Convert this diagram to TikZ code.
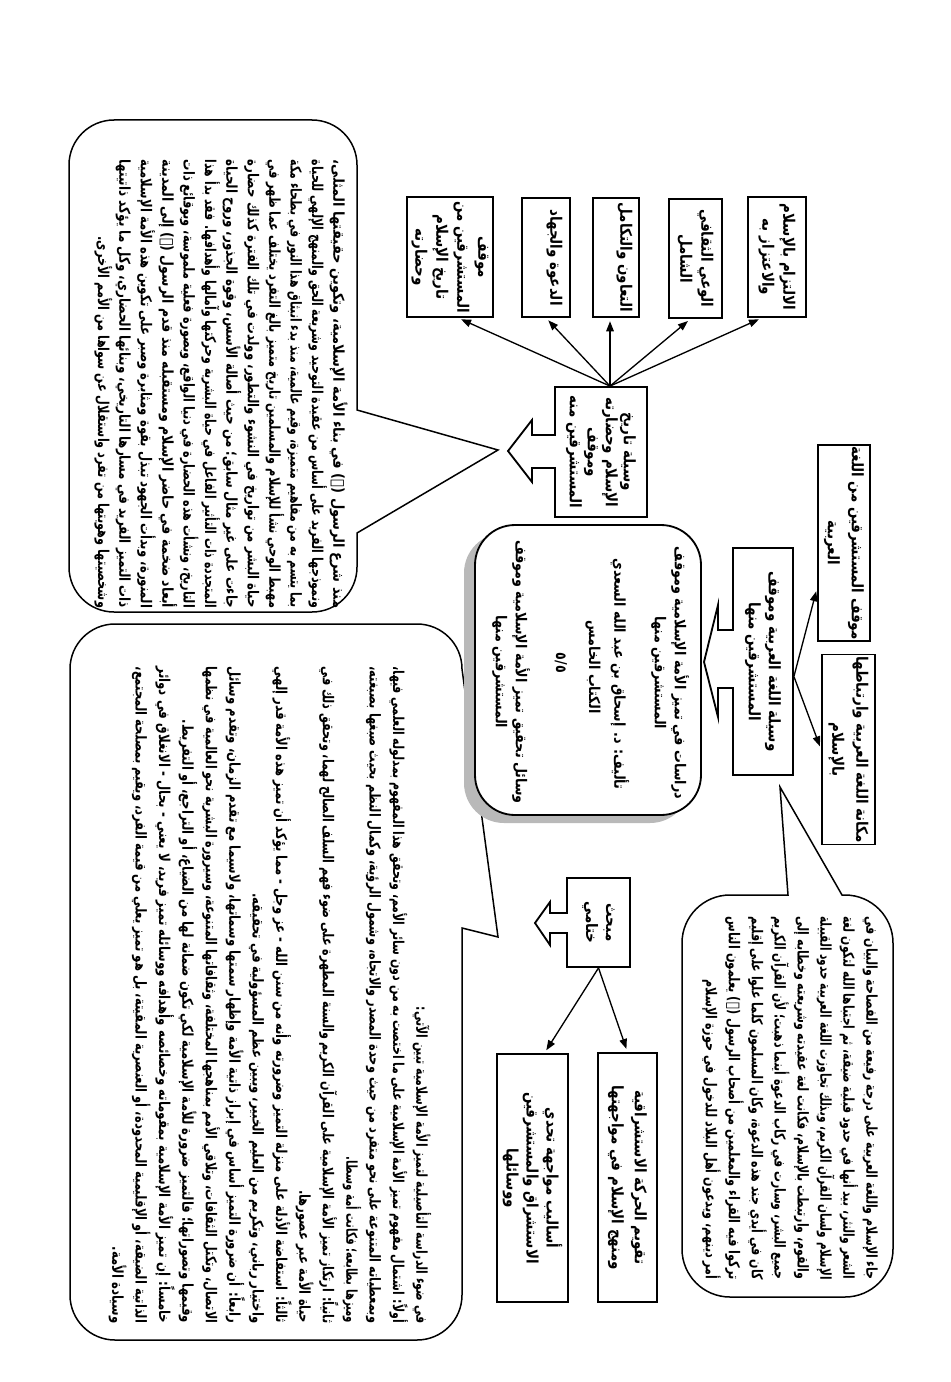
\documentclass[tikz,border=0pt]{standalone}
\usepackage{fontspec}
\usepackage{graphicx}
\usetikzlibrary{arrows.meta,calc}
\TeXXeTstate=1
\newfontfamily\arf[Script=Arabic]{DejaVu Sans}
\newfontfamily\arb[Script=Arabic,FakeStretch=0.85]{DejaVu Sans}
\newsavebox\fitbx
\newcommand\fitline[2]{\sbox\fitbx{#2}\ifdim\wd\fitbx>#1\relax\resizebox{#1}{\height}{\usebox\fitbx}\else\makebox[#1][s]{#2}\fi}
\newcommand\rl[3]{\makebox[#1][r]{\resizebox{#2}{\height}{#3}}}
\tikzset{
  bx/.style={draw, line width=1.1pt, inner sep=1pt, align=center, fill=white,
    font=\arb\bfseries\fontsize{9.5}{12.6}\selectfont},
  arr/.style={line width=0.8pt, -{Triangle[length=6pt,width=4.5pt]}, shorten >=2pt},
  bubble/.style={draw, line width=0.9pt, fill=white, line join=miter},
  btxt/.style={inner sep=0pt, align=center},
  blk/.style={draw, line width=1.1pt, line join=miter},
}
\begin{document}
\begin{tikzpicture}[x=0.6pt,y=0.6pt]
\fill[white] (0,0) rectangle (950,-1382);
\useasboundingbox (0,0) rectangle (950,-1382);
\begin{scope}[rotate=-90,transform shape]
% ---------- speech bubbles ----------
\draw[bubble] (120,114) -- (120,312) arc[start angle=180,end angle=90,radius=45]
  -- (410,357) -- (450,498) -- (533,357) -- (567,357)
  arc[start angle=90,end angle=0,radius=45] -- (612,114)
  arc[start angle=0,end angle=-90,radius=45] -- (165,69)
  arc[start angle=270,end angle=180,radius=45] -- cycle;
\draw[bubble] (624,115) -- (624,417) arc[start angle=180,end angle=90,radius=45]
  -- (937,498) -- (928,462) -- (1295,462)
  arc[start angle=90,end angle=0,radius=45] -- (1340,115)
  arc[start angle=0,end angle=-90,radius=45] -- (669,70)
  arc[start angle=270,end angle=180,radius=45] -- cycle;
\draw[bubble] (895,730) -- (895,788) -- (787,780) -- (895,842) -- (895,845)
  arc[start angle=180,end angle=90,radius=48] -- (1249,893)
  arc[start angle=90,end angle=0,radius=48] -- (1297,730)
  arc[start angle=0,end angle=-90,radius=48] -- (943,682)
  arc[start angle=270,end angle=180,radius=48] -- cycle;
% ---------- bubble texts ----------
\node[btxt, font=\arf\bfseries\fontsize{9}{12.84}\selectfont] (TLtext) at (384,221) {%
\fitline{269pt}{\beginR منذ شرع الرسول (ﷺ) في بناء الأمة الإسلامية، وتكوين حقيقتها المثلى،\endR}\\
\fitline{269pt}{\beginR ونموذجها الفريد على أساس من عقيدة التوحيد وشريعة الحق والمنهج الإلهي للحياة\endR}\\
\fitline{269pt}{\beginR بما يتسم به من مفاهيم متميزة، وقيم عالمية، منذ بدء انبثاق هذا النور في بطحاء مكة\endR}\\
\fitline{269pt}{\beginR مهبط الوحي نشأ للإسلام والمسلمين تاريخ متميز بالغ التفرد يختلف عما ظهر في\endR}\\
\fitline{269pt}{\beginR حياة البشر من تواريخ في النشوء والتطور، وولدت في تلك الفترة كذلك حضارة\endR}\\
\fitline{269pt}{\beginR جاءت على غير مثال سابق؛ من حيث أصالة الأسس، وقوة الجذور، وروح الحياة\endR}\\
\fitline{269pt}{\beginR المتجددة ذات التأثير الفاعل في حياة البشرية وحركتها وآمالها وأهدافها. فقد بدأ هذا\endR}\\
\fitline{269pt}{\beginR التاريخ، ونشأت هذه الحضارة في دنيا الواقع، وبصورة فعلية ملموسة، وبوقائع ذات\endR}\\
\fitline{269pt}{\beginR أبعاد ضخمة في حاضر الإسلام ومستقبله منذ قدم الرسول (ﷺ) إلى المدينة\endR}\\
\fitline{269pt}{\beginR المنورة، وبدأت الجهود تبذل بقوة ومثابرة وصبر على تكوين هذه الأمة الإسلامية\endR}\\
\fitline{269pt}{\beginR ذات التميز الفريد في مسارها التاريخي، وبنائها الحضاري، وكل ما يؤكد ذاتيتها\endR}\\
\rl{269pt}{223pt}{\beginR وشخصيتها وهويتها من تفرد واستقلال عن سواها من الأمم الأخرى.\endR}};
\node[btxt, font=\arf\bfseries\fontsize{9}{14.04}\selectfont] (BLtext) at (995,270) {%
\rl{394pt}{190pt}{\beginR في ضوء الدراسة التأصيلية لتميز الأمة الإسلامية تبين الآتي:\endR}\\
\fitline{394pt}{\beginR أولاً: اشتمال مفهوم تميز الأمة الإسلامية على ما اختصت به من دون سائر الأمم، وتحقق هذا المفهوم بمدلوله العلمي فيها،\endR}\\
\fitline{394pt}{\beginR وبمعطياته المتنوعة على نحو متفرد من حيث وحدة المصدر والاتجاه، وشمول الرؤية، وكمال النظم بحيث صبغها بصبغته،\endR}\\
\rl{394pt}{100pt}{\beginR وميزها بطابعه؛ فكانت أمة وسطا.\endR}\\
\fitline{394pt}{\beginR ثانياً: ارتكاز تميز الأمة الإسلامية على القرآن الكريم والسنة المطهرة على ضوء فهم السلف الصالح لهما، وتحقق ذلك في\endR}\\
\rl{394pt}{80pt}{\beginR حياة الأمة عبر عصورها.\endR}\\
\fitline{394pt}{\beginR ثالثاً: استفاضة الأدلة على منزلة التميز وضرورته وأنه من سنن الله - عز وجل - مما يؤكد أن تميز هذه الأمة قدر إلهي\endR}\\
\rl{394pt}{258pt}{\beginR واختيار رباني، وتكريم من العليم الخبير، ويبين عظم المسؤولية في تحقيقه.\endR}\\
\fitline{394pt}{\beginR رابعاً: أن ضرورة التميز أساس في إبراز ذاتية الأمة وإظهار سمتها وسماتها، ولاسيما مع تقدم الزمان، وتقدم وسائل\endR}\\
\fitline{394pt}{\beginR الاتصال، وتكتل الثقافات، وتلاقي الأمم بمناهجها المختلفة، وثقافاتها المتنوعة، وسيرورة البشرية نحو العالمية في نظمها\endR}\\
\rl{394pt}{362pt}{\beginR وقيمها وتصوراتها؛ فالتميز ضرورة للأمة الإسلامية لكي تكون ضمانة لها من الضياع، أو التراجع، أو التفريط.\endR}\\
\fitline{394pt}{\beginR خامساً: إن تميز الأمة الإسلامية بمقوماته وخصائصه وأهدافه ووسائله تميز فريد، لا يعني - بحال - الانغلاق في دوائر\endR}\\
\fitline{394pt}{\beginR الذاتية الضيقة، أو الإقليمية المحدودة، أو العنصرية المقيتة، بل هو تميز يعلي من قيمة الفرد، ويقيم بمصلحة المجتمع،\endR}\\
\rl{394pt}{46pt}{\beginR وسيادة الأمة.\endR}};
\node[btxt, font=\arf\bfseries\fontsize{9}{13.74}\selectfont] (BRtext) at (1098,790) {%
\fitline{218pt}{\beginR جاء الإسلام واللغة العربية على درجة رفيعة من الفصاحة والبيان في\endR}\\
\fitline{218pt}{\beginR الشعر والنثر، بيد أنها في حدود قبلية ضيقة، ثم اجتباها الله لتكون لغة\endR}\\
\fitline{218pt}{\beginR الإسلام ولسان القرآن الكريم، وبذلك تجاوزت اللغة العربية حدود القبيلة\endR}\\
\fitline{218pt}{\beginR والقوم، وارتبطت بالإسلام، فكانت لغة عقيدته وشريعته وخطابه إلى\endR}\\
\fitline{218pt}{\beginR جميع البشر، وسارت في ركاب الدعوة أينما ذهبت؛ لأن القرآن الكريم\endR}\\
\fitline{218pt}{\beginR كان في أيدي جند هذه الدعوة، وكان المسلمون كلما علوا على إقليم\endR}\\
\fitline{218pt}{\beginR تركوا فيه القراء والمعلمين من أصحاب الرسول (ﷺ) يعلمون الناس\endR}\\
\rl{218pt}{180pt}{\beginR أمر دينهم، ويدعون أهل البلاد للدخول في حوزة الإسلام\endR}};
% ---------- central rounded box with shadow ----------
\fill[gray!55, rounded corners=24pt] (533,464) rectangle (823,690);
\node[draw, fill=white, line width=1.1pt, rounded corners=24pt,
  minimum width=174pt, minimum height=135.6pt] (RB) at (670,588) {};
\node[btxt, font=\arb\bfseries\fontsize{9}{12}\selectfont] (RB1) at (673,670)
  {\beginR دراسات في تميز الأمة الإسلامية وموقف\endR\\\beginR المستشرقين منها\endR};
\node[btxt, font=\arb\bfseries\fontsize{9}{12}\selectfont] (RB2) at (674,620)
  {\beginR تأليف: د. إسحاق بن عبد الله السعدي\endR};
\node[btxt, font=\arb\bfseries\fontsize{9}{12}\selectfont] (RB3) at (667,593)
  {\beginR الكتاب الخامس\endR};
\node[btxt, font=\arb\bfseries\fontsize{9}{12}\selectfont] (RB4) at (663,561)
  {\beginR ٥/٥\endR};
\node[btxt, font=\arb\bfseries\fontsize{9}{12}\selectfont] (RB5) at (672,511)
  {\beginR وسائل تحقيق تميز الأمة الإسلامية وموقف\endR\\\beginR المستشرقين منها\endR};
% ---------- boxes ----------
\node[bx, minimum width=78pt, minimum height=55.2pt,
  font=\arb\bfseries\fontsize{9.5}{10.8}\selectfont] (CB) at (452,601)
  {\beginR وسيلة تاريخ\endR\\\beginR الإسلام وحضارته\endR\\\beginR وموقف\endR\\\beginR المستشرقين منه\endR};
\node[bx, minimum width=72pt, minimum height=51.6pt] (B1) at (257,450)
  {\beginR موقف\endR\\\beginR المستشرقين من\endR\\\beginR تاريخ الإسلام\endR\\\beginR وحضارته\endR};
\node[bx, minimum width=71.4pt, minimum height=28.8pt] (B2) at (257.5,546)
  {\beginR الدعوة والجهاد\endR\\\mbox{}};
\node[bx, minimum width=71.4pt, minimum height=27.6pt] (B3) at (257.5,616)
  {\beginR التعاون والتكامل\endR\\\mbox{}};
\node[bx, minimum width=71.4pt, minimum height=31.8pt] (B4) at (258.5,695.5)
  {\beginR الوعي الثقافي\endR\\\beginR الشامل\endR};
\node[bx, minimum width=72pt, minimum height=34.8pt] (B5) at (257,777)
  {\beginR الالتزام بالإسلام\endR\\\beginR والاعتزاز به\endR};
\node[bx, minimum width=115.2pt, minimum height=31.2pt,
  font=\arb\bfseries\fontsize{9.5}{14.4}\selectfont] (R1) at (543,844)
  {\beginR موقف المستشرقين من اللغة\endR\\\beginR العربية\endR};
\node[bx, minimum width=111pt, minimum height=31.8pt,
  font=\arb\bfseries\fontsize{9.5}{14.4}\selectfont] (R2) at (749.5,848.5)
  {\beginR مكانة اللغة العربية وارتباطها\endR\\\beginR بالإسلام\endR};
\node[bx, minimum width=136.2pt, minimum height=36pt,
  font=\arb\bfseries\fontsize{9.5}{12}\selectfont] (LB) at (661.5,763)
  {\beginR وسيلة اللغة العربية وموقف\endR\\\beginR المستشرقين منها\endR};
\node[bx, minimum width=53.4pt, minimum height=37.8pt,
  font=\arb\bfseries\fontsize{9.5}{12}\selectfont] (MB) at (922.5,598.5)
  {\beginR مبحث\endR\\\beginR ختامي\endR};
\node[bx, minimum width=148.8pt, minimum height=42.6pt,
  font=\arb\bfseries\fontsize{9.5}{12}\selectfont] (F1) at (1178,532.5)
  {\beginR أساليب مواجهة تحدي\endR\\\beginR الاستشراق والمستشرقين\endR\\\beginR ووسائلها\endR};
\node[bx, minimum width=149.4pt, minimum height=35.4pt,
  font=\arb\bfseries\fontsize{9.5}{13.8}\selectfont] (F2) at (1177.5,627.5)
  {\beginR تقويم الحركة الاستشراقية\endR\\\beginR ومنهج الإسلام في مواجهتها\endR};
% ---------- block arrows on boxes ----------
\fill[white] (436,551) rectangle (467,559);
\draw[blk] (435,555) -- (435,532) -- (420,532) -- (451,508) -- (482,532) -- (468,532) -- (468,555);
\fill[white] (631,729) rectangle (687,737);
\draw[blk] (630,733) -- (630,718) -- (605,718) -- (662,704) -- (717,718) -- (688,718) -- (688,733);
\fill[white] (914,563) rectangle (932,571);
\draw[blk] (913,567) -- (913,550) -- (902,550) -- (923,535) -- (945,550) -- (933,550) -- (933,567);
% ---------- connectors ----------
\coordinate (cbsrc) at ($(CB.west)+(0,9)$);
\draw[arr] (cbsrc) -- ($(B1.east)+(0,8)$);
\draw[arr] (cbsrc) -- (B2.east);
\draw[arr] (cbsrc) -- ($(B3.east)+(0,-6)$);
\draw[arr] (cbsrc) -- ($(B4.east)+(0,-5)$);
\draw[arr] (cbsrc) -- ($(B5.east)+(0,-15)$);
\coordinate (lbsrc) at ($(LB.north)+(15,0)$);
\draw[arr] (lbsrc) -- ($(R1.south)+(45,0)$);
\draw[arr] (lbsrc) -- (R2.south);
\draw[arr] (MB.east) -- ($(F1.west)+(0,12)$);
\draw[arr] (MB.east) -- (F2.west);
\end{scope}
\end{tikzpicture}
\end{document}
